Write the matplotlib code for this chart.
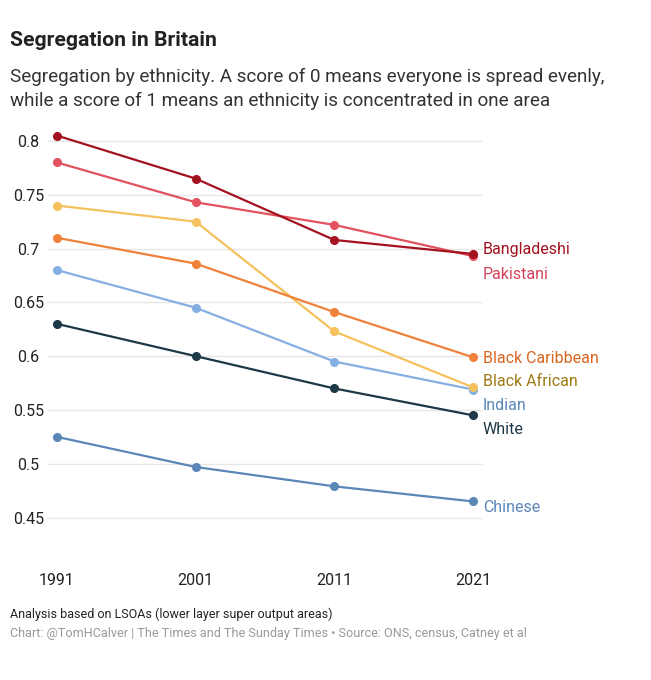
import matplotlib
matplotlib.use('Agg')
import matplotlib.pyplot as plt

years = [1991, 2001, 2011, 2021]
groups = ['Bangladeshi', 'Pakistani', 'Black Caribbean', 'Black African', 'Indian', 'White', 'Chinese']
bangladeshi = [0.805, 0.765, 0.708, 0.695]
pakistani = [0.780, 0.743, 0.722, 0.693]
black_caribbean = [0.710, 0.686, 0.641, 0.599]
black_african = [0.740, 0.725, 0.623, 0.571]
indian = [0.680, 0.645, 0.595, 0.569]
white = [0.630, 0.600, 0.570, 0.545]
chinese = [0.525, 0.497, 0.479, 0.465]
yticks = [0.45, 0.5, 0.55, 0.6, 0.65, 0.7, 0.75, 0.8]
ytick_labels = ['0.45', '0.5', '0.55', '0.6', '0.65', '0.7', '0.75', '0.8']

series = [bangladeshi, pakistani, black_caribbean, black_african, indian, white, chinese]
line_colors = ['#a3121f', '#e2525f', '#f0813a', '#f5c15c', '#85afe3', '#1e3847', '#5a86b8']
label_colors = ['#a3121f', '#d4435a', '#d9661f', '#9c7a12', '#5a86b8', '#1e3847', '#5a86b8']
# label positions nudged so they don't collide
label_y = [0.701, 0.678, 0.600, 0.578, 0.556, 0.5335, 0.461]

plt.rcParams['font.family'] = ['Roboto', 'DejaVu Sans']

fig = plt.figure(figsize=(6.51, 6.80), dpi=100)
ax = fig.add_axes([48 / 651, 1 - 560.6 / 680, (483 - 48) / 651, (560.6 - 130.2) / 680])

# draw bottom series first so dark lines sit on top
for vals, c in list(zip(series, line_colors))[::-1]:
    ax.plot(years, vals, color=c, lw=1.6, marker='o', ms=5.5, zorder=3)

for name, ly, c in zip(groups, label_y, label_colors):
    ax.annotate(name, (2021, ly), xytext=(7, -1.5), textcoords='offset points',
                color=c, fontsize=11.5, va='center', ha='left', annotation_clip=False)

ax.set_xlim(1990.35, 2021.72)
ax.set_ylim(0.41, 0.81)
ax.set_yticks(yticks)
ax.set_yticklabels(ytick_labels)
ax.set_xticks(years)
ax.set_xticklabels([str(y) for y in years])
ax.grid(axis='y', color='#e6e6e6', lw=1)
ax.set_axisbelow(True)
for s in ax.spines.values():
    s.set_visible(False)
ax.tick_params(axis='both', length=0, labelsize=11.5, labelcolor='#222222')
ax.tick_params(axis='x', pad=9)
ax.tick_params(axis='y', pad=14)
for t in ax.get_yticklabels():
    t.set_horizontalalignment('center')

fig.text(10 / 651, 1 - 41 / 680, 'Segregation in Britain', fontsize=15.2, fontweight='bold',
         color='#222222', va='center')
fig.text(10 / 651, 1 - 77 / 680, 'Segregation by ethnicity. A score of 0 means everyone is spread evenly,',
         fontsize=13.6, color='#333333', va='center')
fig.text(10 / 651, 1 - 101 / 680, 'while a score of 1 means an ethnicity is concentrated in one area',
         fontsize=13.6, color='#333333', va='center')
fig.text(10 / 651, 1 - 614 / 680, 'Analysis based on LSOAs (lower layer super output areas)',
         fontsize=9, color='#222222', va='center')
fig.text(10 / 651, 1 - 634 / 680,
         'Chart: @TomHCalver | The Times and The Sunday Times \u2022 Source: ONS, census, Catney et al',
         fontsize=9.1, color='#999999', va='center')

fig.savefig('out.png', dpi=100)
